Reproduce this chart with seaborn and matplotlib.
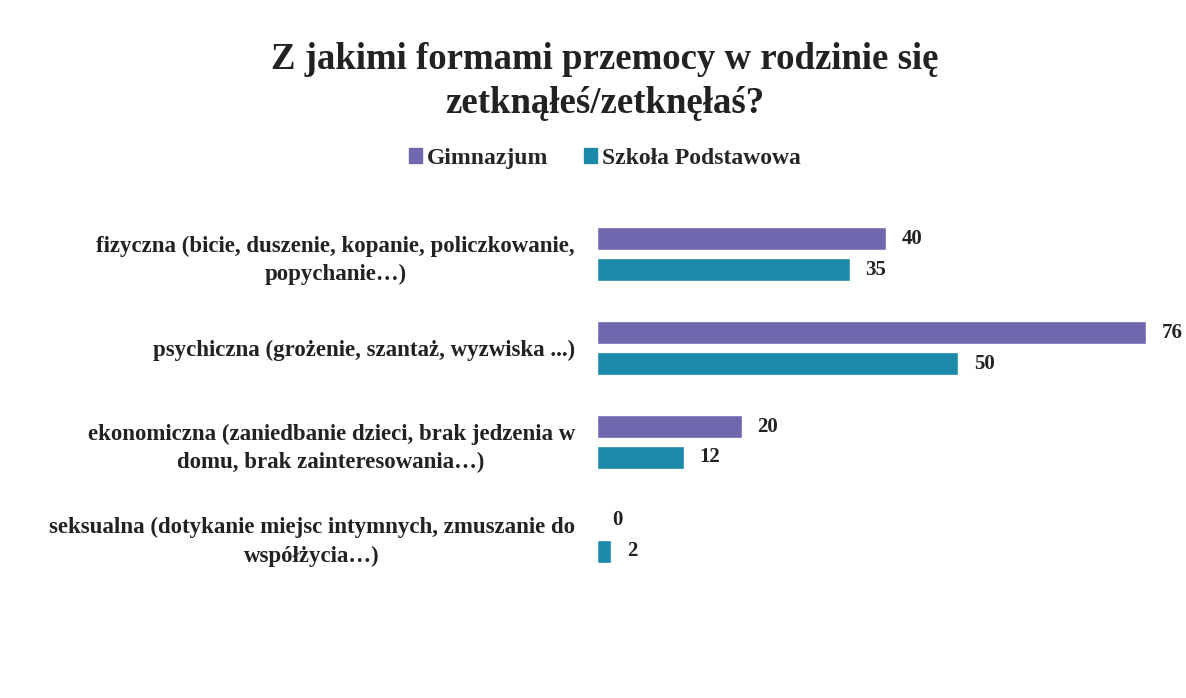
import pandas as pd
import matplotlib.pyplot as plt
import seaborn as sns

kategorie = [
    "fizyczna (bicie, duszenie, kopanie, policzkowanie,\npopychanie…)",
    "psychiczna (grożenie, szantaż, wyzwiska ...)",
    "ekonomiczna (zaniedbanie dzieci, brak jedzenia w\ndomu, brak zainteresowania…)",
    "seksualna (dotykanie miejsc intymnych, zmuszanie do\nwspółżycia…)",
]
gimnazjum = [40, 76, 20, 0]
podstawowa = [35, 50, 12, 2]
grupy = ["Gimnazjum", "Szkoła Podstawowa"]
kolory = ["#7068ae", "#1a8aa8"]

df = pd.DataFrame({
    "kategoria": kategorie * 2,
    "wartosc": gimnazjum + podstawowa,
    "grupa": [grupy[0]] * 4 + [grupy[1]] * 4,
})

sns.set_theme(style="white")
plt.rcParams['font.family'] = ['Liberation Serif', 'DejaVu Serif']
plt.rcParams['font.weight'] = 'bold'

fig = plt.figure(figsize=(11.86, 6.98), dpi=100)
ax = fig.add_axes([597 / 1186, 0.165, 1 - 597 / 1186, 0.538])

sns.barplot(data=df, y="kategoria", x="wartosc", hue="grupa", order=kategorie,
            hue_order=grupy, palette=kolory, orient="h", width=0.66, gap=0.25,
            saturation=1, ax=ax, legend=False)

for kontener in ax.containers:
    ax.bar_label(kontener, fmt="%d", padding=11, fontsize=15, fontweight="bold", color="#222222")

ax.set_xlim(0, 81.5)
ax.set_ylim(3.5, -0.5)
ax.set_xlabel("")
ax.set_ylabel("")
ax.set_xticks([])
ax.tick_params(axis="y", length=0, pad=16)
ax.set_yticklabels(kategorie, fontsize=16.5, fontweight="bold", color="#222222",
                   multialignment="center", linespacing=1.45)
sns.despine(ax=ax, left=True, bottom=True)

fig.text(0.51, 0.883, "Z jakimi formami przemocy w rodzinie się\nzetknąłeś/zetknęłaś?",
         ha="center", va="center", fontsize=26.5, fontweight="bold", color="#222222",
         linespacing=1.32)

uchwyty = [plt.Rectangle((0, 0), 1, 1, color=k) for k in kolory]
fig.legend(uchwyty, grupy, loc="center", bbox_to_anchor=(0.51, 0.773), ncol=2,
           frameon=False, handlelength=0.55, handleheight=0.55,
           handletextpad=0.2, columnspacing=1.5, prop={"weight": "bold", "size": 17})

fig.savefig("out.png", dpi=100)
